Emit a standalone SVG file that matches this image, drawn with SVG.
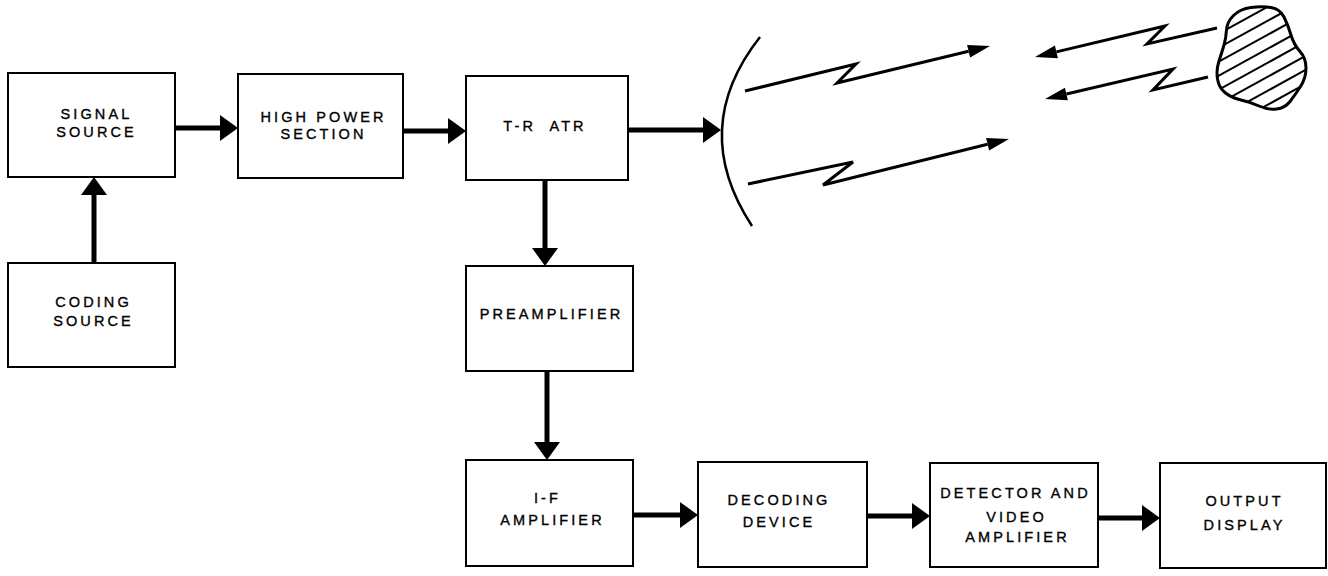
<svg xmlns="http://www.w3.org/2000/svg" width="1328" height="576" viewBox="0 0 1328 576">
<style>
.box{fill:#fff;stroke:#000;stroke-width:2}
.lbl{font-family:"Liberation Sans",Arial,sans-serif;font-size:14.5px;letter-spacing:3.1px;text-anchor:middle;fill:#000;stroke:#000;stroke-width:0.35;white-space:pre}
.conn{stroke:#000;stroke-width:5;fill:none}
.beam{stroke:#000;stroke-width:3;fill:none;stroke-linejoin:miter}
.hatch{stroke:#000;stroke-width:2}
</style>
<defs>
<marker id="ah" markerUnits="userSpaceOnUse" markerWidth="18" markerHeight="26" refX="0" refY="13" orient="auto" overflow="visible">
<path d="M0,0 L18,13 L0,26 Z" fill="#000"/>
</marker>
<marker id="bh" markerUnits="userSpaceOnUse" markerWidth="22" markerHeight="13" refX="0" refY="6.5" orient="auto" overflow="visible">
<path d="M0,0 L22,6.5 L0,13 Z" fill="#000"/>
</marker>
<clipPath id="blobclip">
<path d="M1233.5,15.5 Q1240,9 1251,7.5 Q1262,6 1271,7.5 Q1280,9 1284,17 Q1288,25 1291,35 Q1294,45 1300,51.5 Q1306,58 1306,68 Q1306,78 1300.5,86.5 Q1295,95 1290,101.5 Q1285,108 1276.5,109 Q1268,110 1259,106 Q1250,102 1241,100 Q1232,98 1225.5,93 Q1219,88 1217.5,79 Q1216,70 1219,61 Q1222,52 1224,45 Q1226,38 1226.5,30 Q1227,22 1233.5,15.5 Z"/>
</clipPath>
</defs>
<rect width="1328" height="576" fill="#fff"/>

<g id="connectors">
<line class="conn" x1="175" y1="128" x2="220" y2="128" marker-end="url(#ah)"/>
<line class="conn" x1="403" y1="131" x2="448" y2="131" marker-end="url(#ah)"/>
<line class="conn" x1="628" y1="130" x2="703" y2="130" marker-end="url(#ah)"/>
<line class="conn" x1="94" y1="263" x2="94" y2="195" marker-end="url(#ah)"/>
<line class="conn" x1="545" y1="180" x2="545" y2="248" marker-end="url(#ah)"/>
<line class="conn" x1="547" y1="371" x2="547" y2="442" marker-end="url(#ah)"/>
<line class="conn" x1="633" y1="515" x2="680" y2="515" marker-end="url(#ah)"/>
<line class="conn" x1="867" y1="516" x2="912" y2="516" marker-end="url(#ah)"/>
<line class="conn" x1="1098" y1="518" x2="1142" y2="518" marker-end="url(#ah)"/>
</g>

<g id="antenna">
<path d="M760,37 Q688,128.5 752,226" fill="none" stroke="#000" stroke-width="2.5"/>
</g>

<g id="beams">
<polyline class="beam" points="745,91 856,64 837,83 968.6,51.2" marker-end="url(#bh)"/>
<polyline class="beam" points="748,184 853,162 823,185 987.6,144.3" marker-end="url(#bh)"/>
<polyline class="beam" points="1217,28 1147,44 1165,26 1056.4,51.9" marker-end="url(#bh)"/>
<polyline class="beam" points="1208,77 1153,90 1173,69 1066.4,94" marker-end="url(#bh)"/>
</g>

<g id="target">
<g clip-path="url(#blobclip)">
<line class="hatch" x1="1200" y1="30" x2="1320" y2="-36"/>
<line class="hatch" x1="1200" y1="44" x2="1320" y2="-22"/>
<line class="hatch" x1="1200" y1="58" x2="1320" y2="-8"/>
<line class="hatch" x1="1200" y1="72" x2="1320" y2="6"/>
<line class="hatch" x1="1200" y1="86" x2="1320" y2="20"/>
<line class="hatch" x1="1200" y1="100" x2="1320" y2="34"/>
<line class="hatch" x1="1200" y1="114" x2="1320" y2="48"/>
<line class="hatch" x1="1200" y1="128" x2="1320" y2="62"/>
<line class="hatch" x1="1200" y1="142" x2="1320" y2="76"/>
<line class="hatch" x1="1200" y1="156" x2="1320" y2="90"/>
<line class="hatch" x1="1200" y1="170" x2="1320" y2="104"/>
<line class="hatch" x1="1200" y1="184" x2="1320" y2="118"/>
</g>
<path d="M1233.5,15.5 Q1240,9 1251,7.5 Q1262,6 1271,7.5 Q1280,9 1284,17 Q1288,25 1291,35 Q1294,45 1300,51.5 Q1306,58 1306,68 Q1306,78 1300.5,86.5 Q1295,95 1290,101.5 Q1285,108 1276.5,109 Q1268,110 1259,106 Q1250,102 1241,100 Q1232,98 1225.5,93 Q1219,88 1217.5,79 Q1216,70 1219,61 Q1222,52 1224,45 Q1226,38 1226.5,30 Q1227,22 1233.5,15.5 Z" fill="none" stroke="#000" stroke-width="3"/>
</g>

<g id="signal-source">
<rect class="box" x="8" y="73" width="167" height="104"/>
<text class="lbl" x="96.5" y="119">SIGNAL</text>
<text class="lbl" x="96.5" y="137">SOURCE</text>
</g>
<g id="high-power-section">
<rect class="box" x="238" y="74" width="165" height="104"/>
<text class="lbl" x="323.5" y="122">HIGH POWER</text>
<text class="lbl" x="323.5" y="139">SECTION</text>
</g>
<g id="tr-atr">
<rect class="box" x="466" y="76" width="162" height="104"/>
<text class="lbl" x="545" y="131">T-R  ATR</text>
</g>
<g id="coding-source">
<rect class="box" x="8" y="263" width="167" height="104"/>
<text class="lbl" x="93.5" y="307">CODING</text>
<text class="lbl" x="93.5" y="326">SOURCE</text>
</g>
<g id="preamplifier">
<rect class="box" x="466" y="266" width="167" height="105"/>
<text class="lbl" x="551.5" y="319">PREAMPLIFIER</text>
</g>
<g id="if-amplifier">
<rect class="box" x="466" y="460" width="167" height="106"/>
<text class="lbl" x="547.5" y="503">I-F</text>
<text class="lbl" x="552.5" y="525">AMPLIFIER</text>
</g>
<g id="decoding-device">
<rect class="box" x="698" y="462" width="169" height="105"/>
<text class="lbl" x="779" y="505">DECODING</text>
<text class="lbl" x="779" y="527">DEVICE</text>
</g>
<g id="detector-video-amplifier">
<rect class="box" x="930" y="463" width="168" height="104"/>
<text class="lbl" x="1015.5" y="498">DETECTOR AND</text>
<text class="lbl" x="1016.5" y="522">VIDEO</text>
<text class="lbl" x="1017.5" y="542">AMPLIFIER</text>
</g>
<g id="output-display">
<rect class="box" x="1160" y="463" width="166" height="105"/>
<text class="lbl" x="1244.5" y="506">OUTPUT</text>
<text class="lbl" x="1244.5" y="530">DISPLAY</text>
</g>
</svg>
